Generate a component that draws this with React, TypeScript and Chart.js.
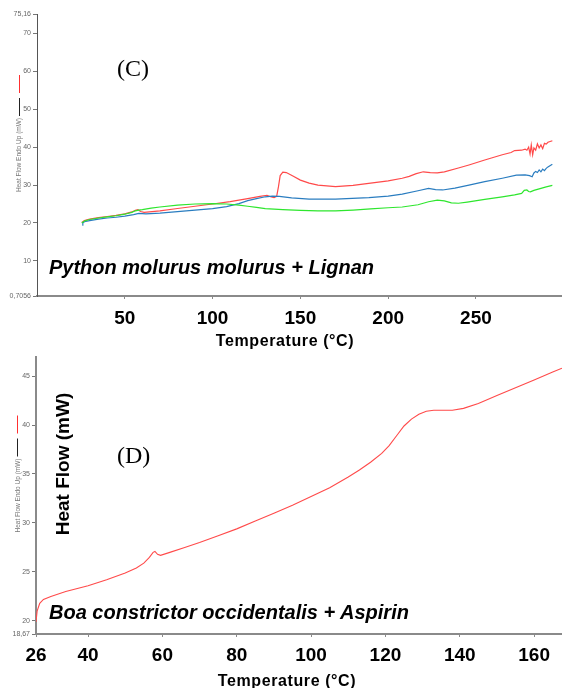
import React, { useEffect, useRef } from "react";
import { Chart, registerables } from "chart.js";
Chart.register(...registerables);

const SANS = '"Liberation Sans", Arial, sans-serif';
const SERIF = '"Liberation Serif", "Times New Roman", serif';

// ---------- Panel (C): Python molurus molurus + Lignan ----------
const cXTicks = [50, 100, 150, 200, 250];
const cYTicks = [0.7056, 10, 20, 30, 40, 50, 60, 70, 75.16];

const cRedT = [25.5, 27, 30, 35, 40, 45, 50, 54, 56, 57.5, 59, 61, 70, 80, 90, 100, 110, 120, 127, 131, 133, 135, 136.5, 137.5, 138.5, 140, 142, 146, 150, 155, 160, 170, 180, 190, 200, 208, 212, 216, 220, 224, 228, 232, 240, 246, 255, 265, 270, 272, 276, 278, 279, 280, 280.8, 281.5, 282.3, 283, 284, 285, 286, 287, 288, 289, 290, 291, 293.5];
const cRedV = [20.1, 20.6, 21.0, 21.4, 21.7, 22.0, 22.4, 22.9, 23.3, 23.5, 23.0, 22.8, 23.2, 23.8, 24.4, 25.0, 25.6, 26.4, 27.0, 27.3, 26.9, 26.7, 27.0, 29.5, 32.5, 33.4, 33.3, 32.3, 31.3, 30.5, 30.0, 29.6, 29.9, 30.5, 31.1, 31.8, 32.3, 33.0, 33.5, 33.3, 33.2, 33.5, 34.5, 35.3, 36.6, 38.0, 38.6, 39.1, 39.2, 39.5, 39.2, 40.0, 38.2, 40.6, 38.0, 39.8, 39.2, 40.9, 39.8, 40.6, 39.6, 41.0, 40.8, 41.3, 41.7];

const cBlueT = [25.8, 26.1, 27, 30, 35, 40, 45, 50, 55, 58, 62, 70, 80, 90, 100, 108, 115, 120, 125, 130, 134, 138, 145, 155, 170, 189, 200, 208, 217, 223, 227, 231, 238, 246, 255, 265, 273, 278, 280.5, 282, 283, 284, 285, 286, 287, 288, 289, 290, 291, 293.5];
const cBlueV = [19.4, 20.0, 20.3, 20.6, 21.0, 21.3, 21.5, 21.8, 22.2, 22.5, 22.4, 22.6, 23.0, 23.4, 23.8, 24.3, 25.1, 25.9, 26.4, 26.9, 27.1, 27.0, 26.6, 26.3, 26.3, 26.7, 27.1, 27.6, 28.5, 29.1, 28.8, 28.7, 29.2, 30.0, 30.9, 31.8, 32.6, 32.7, 32.5, 32.2, 33.2, 33.6, 33.3, 34.0, 33.5, 34.2, 33.8, 34.4, 34.8, 35.5];

const cGreenT = [25.5, 27, 30, 35, 40, 45, 50, 54, 56, 58, 60, 65, 70, 80, 90, 100, 108, 115, 120, 125, 130, 140, 150, 160, 170, 180, 190, 200, 208, 217, 223, 228, 232, 236, 240, 245, 255, 265, 272, 276, 277.5, 279, 280, 281, 283, 286, 290, 293.5];
const cGreenV = [20.0, 20.5, 20.9, 21.3, 21.6, 21.9, 22.3, 22.8, 23.2, 23.4, 23.5, 23.9, 24.2, 24.7, 25.0, 25.1, 25.0, 24.7, 24.4, 24.1, 23.8, 23.5, 23.3, 23.2, 23.2, 23.4, 23.7, 24.0, 24.2, 24.8, 25.6, 26.0, 25.8, 25.3, 25.2, 25.5, 26.2, 26.9, 27.4, 27.8, 28.6, 28.7, 28.3, 28.2, 28.6, 29.0, 29.5, 29.9];

// ---------- Panel (D): Boa constrictor occidentalis + Aspirin ----------
const dXTicks = [26, 40, 60, 80, 100, 120, 140, 160];
const dYTicks = [18.67, 20, 25, 30, 35, 40, 45];

const dT = [26, 26.3, 27, 28, 30, 34, 40, 45, 50, 53, 55, 56.5, 57.5, 58, 58.7, 59.5, 62, 66, 70, 75, 80, 85, 90, 95, 100, 105, 110, 113, 116, 119, 121, 123, 125, 127, 129, 131, 133, 135, 138, 141, 145, 150, 155, 160, 165, 167.5];
const dV = [19.9, 21.0, 21.8, 22.2, 22.5, 23.0, 23.6, 24.2, 24.9, 25.4, 25.9, 26.5, 27.0, 27.1, 26.8, 26.7, 27.0, 27.5, 28.0, 28.7, 29.4, 30.2, 31.0, 31.8, 32.7, 33.6, 34.7, 35.4, 36.2, 37.1, 37.9, 38.9, 39.9, 40.6, 41.1, 41.4, 41.5, 41.5, 41.5, 41.7, 42.2, 43.0, 43.8, 44.6, 45.4, 45.8];

const X_TITLE = "Temperature (°C)";
const Y_TITLE = "Heat Flow Endo Up (mW)";

function pts(t: number[], v: number[]) {
  return t.map((x, i) => ({ x, y: v[i] }));
}
const fmt = (v: number) => String(v).replace(".", ",");

function legendMarks(x: number) {
  return {
    id: "legendMarks",
    afterDraw(chart: any) {
      const ctx = chart.ctx;
      const c = (chart.chartArea.top + chart.chartArea.bottom) / 2;
      ctx.save();
      ctx.lineWidth = 1;
      ctx.strokeStyle = "#ff3030";
      ctx.beginPath();
      ctx.moveTo(x + 0.5, c - 80);
      ctx.lineTo(x + 0.5, c - 62);
      ctx.stroke();
      ctx.strokeStyle = "#222";
      ctx.beginPath();
      ctx.moveTo(x + 0.5, c - 57);
      ctx.lineTo(x + 0.5, c - 39);
      ctx.stroke();
      ctx.restore();
    },
  };
}

type PanelProps = {
  top: number;
  height: number;
  datasets: any[];
  xMin: number;
  xMax: number;
  xTicks: number[];
  yMin: number;
  yMax: number;
  yTicks: number[];
  yWidth: number;
  xHeight: number;
  padTop: number;
  yBorder: { color: string; width: number };
  legendX: number;
  yTitlePad: number;
  xTickPad: number;
};

function Panel(p: PanelProps) {
  const ref = useRef<HTMLCanvasElement>(null);
  useEffect(() => {
    const chart = new Chart(ref.current as HTMLCanvasElement, {
      type: "line",
      data: { datasets: p.datasets },
      options: {
        animation: false,
        responsive: false,
        devicePixelRatio: 1,
        layout: { padding: { top: p.padTop, left: 0, right: 0, bottom: 0 } },
        plugins: { legend: { display: false }, tooltip: { enabled: false } },
        elements: { point: { radius: 0 }, line: { tension: 0 } },
        scales: {
          x: {
            type: "linear",
            min: p.xMin,
            max: p.xMax,
            afterBuildTicks: (s: any) => {
              s.ticks = p.xTicks.map((v) => ({ value: v }));
            },
            afterFit: (s: any) => {
              s.height = p.xHeight;
            },
            border: { display: true, color: "#8a8a8a", width: 2 },
            grid: { display: true, drawOnChartArea: false, drawTicks: true, tickLength: 3, color: "#8a8a8a" },
            ticks: {
              autoSkip: false,
              maxRotation: 0,
              padding: p.xTickPad,
              color: "#000",
              font: { family: SANS, size: 19, weight: "bold" },
              callback: (v: any) => String(v),
            },
            title: { display: false },
          },
          y: {
            type: "linear",
            min: p.yMin,
            max: p.yMax,
            afterBuildTicks: (s: any) => {
              s.ticks = p.yTicks.map((v) => ({ value: v }));
            },
            afterFit: (s: any) => {
              s.width = p.yWidth;
            },
            border: { display: true, color: p.yBorder.color, width: p.yBorder.width },
            grid: { display: true, drawOnChartArea: false, drawTicks: true, tickLength: 4, color: "#777" },
            ticks: {
              autoSkip: false,
              padding: 2,
              color: "#666",
              font: { family: SANS, size: 7 },
              callback: (v: any) => fmt(v),
            },
            title: {
              display: true,
              text: Y_TITLE,
              color: "#777",
              font: { family: SANS, size: 6.5 },
              padding: { top: p.yTitlePad, bottom: 0 },
            },
          },
        },
      } as any,
      plugins: [legendMarks(p.legendX)],
    });
    return () => chart.destroy();
  }, []);
  return (
    <canvas
      ref={ref}
      width={562}
      height={p.height}
      style={{ position: "absolute", left: 0, top: p.top, width: 562, height: p.height, display: "block" }}
    />
  );
}

const textBase: React.CSSProperties = { position: "absolute", whiteSpace: "nowrap", lineHeight: 1.2, margin: 0 };
const xTitleStyle: React.CSSProperties = {
  ...textBase,
  fontFamily: SANS,
  fontSize: 16,
  fontWeight: "bold",
  letterSpacing: "0.6px",
  transform: "translate(-50%, -50%)",
};

export default function App() {
  const cSets = [
    { label: "green", data: pts(cGreenT, cGreenV), borderColor: "#2ee62e", borderWidth: 1.2, fill: false },
    { label: "blue", data: pts(cBlueT, cBlueV), borderColor: "#2a7dc0", borderWidth: 1.2, fill: false },
    { label: "red", data: pts(cRedT, cRedV), borderColor: "#ff4a4a", borderWidth: 1.2, fill: false },
  ];
  const dSets = [{ label: "red", data: pts(dT, dV), borderColor: "#ff4a4a", borderWidth: 1.1, fill: false }];
  return (
    <div style={{ position: "fixed", left: 0, top: 0, width: 562, height: 688, overflow: "hidden", background: "#fff" }}>
      <Panel
        top={0}
        height={352}
        datasets={cSets}
        xMin={0}
        xMax={299}
        xTicks={cXTicks}
        yMin={0.7056}
        yMax={75.16}
        yTicks={cYTicks}
        yWidth={37}
        xHeight={56}
        padTop={14}
        yBorder={{ color: "#555", width: 1 }}
        legendX={19}
        yTitlePad={15}
        xTickPad={8}
      />
      <Panel
        top={350}
        height={342}
        datasets={dSets}
        xMin={26}
        xMax={167.5}
        xTicks={dXTicks}
        yMin={18.67}
        yMax={46.94}
        yTicks={dYTicks}
        yWidth={36}
        xHeight={58}
        padTop={7}
        yBorder={{ color: "#8a8a8a", width: 2 }}
        legendX={17}
        yTitlePad={14}
        xTickPad={7}
      />
      <div style={{ ...xTitleStyle, left: 285, top: 341 }}>{X_TITLE}</div>
      <div style={{ ...xTitleStyle, left: 287, top: 681 }}>{X_TITLE}</div>
      <div style={{ ...textBase, left: 117, top: 53.6, fontFamily: SERIF, fontSize: 24 }}>(C)</div>
      <div style={{ ...textBase, left: 117, top: 440.6, fontFamily: SERIF, fontSize: 24 }}>(D)</div>
      <div style={{ ...textBase, left: 49, top: 255, fontFamily: SANS, fontSize: 20, fontWeight: "bold", fontStyle: "italic" }}>
        Python molurus molurus + Lignan
      </div>
      <div style={{ ...textBase, left: 49, top: 600, fontFamily: SANS, fontSize: 20, fontWeight: "bold", fontStyle: "italic" }}>
        Boa constrictor occidentalis + Aspirin
      </div>
      <div
        style={{
          ...textBase,
          left: 63,
          top: 463.5,
          fontFamily: SANS,
          fontSize: 19,
          fontWeight: "bold",
          transform: "translate(-50%, -50%) rotate(-90deg)",
        }}
      >
        Heat Flow (mW)
      </div>
    </div>
  );
}
